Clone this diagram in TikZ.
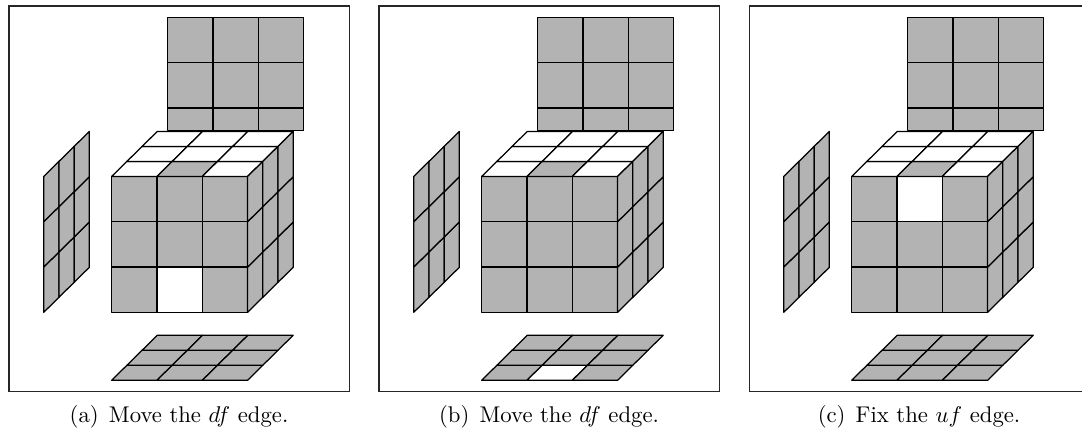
\documentclass[tikz,border=0pt]{standalone}
\definecolor{facegray}{RGB}{179,179,179}
\tikzset{
  cell/.style={draw=black, line width=0.55pt, fill=facegray, line join=round},
  panelframe/.style={draw=black!85, line width=0.45pt},
  capstyle/.style={anchor=base, inner sep=0pt, font=\normalsize},
}
\begin{document}
\begin{tikzpicture}[x=0.44pt,y=-0.44pt]
\useasboundingbox (0,0) rectangle (1082,435);
\clip (0,0) rectangle (1082,435);
\foreach \ox/\fw/\bw/\lab/\txt in {0/10/99/a/{Move the $df$ edge.},370/99/10/b/{Move the $df$ edge.},740/12/99/c/{Fix the $uf$ edge.}}{
  % frame
  \draw[panelframe] (\ox+9,6) rectangle (\ox+349.3,391.7);
  % upper square (clipped by the cube top)
  \foreach \c in {0,1,2}{
    \foreach \ya/\yb in {17.3/62.6,62.6/107.9,107.9/130.7}{
      \path[cell] (\ox+167.7+45.3*\c,\ya) rectangle (\ox+213.0+45.3*\c,\yb);
    }
  }
  \begin{scope}[shift={(\ox+111.7,312.3)}]
  \begin{scope}[x={(19.932pt,0pt)},y={(0pt,19.932pt)},z={(6.688pt,6.6pt)}]
    % left panel
    \foreach \j in {0,1,2}{\foreach \k in {0,1,2}{
      \path[cell] (-1.5,\j,\k) -- (-1.5,\j+1,\k) -- (-1.5,\j+1,\k+1) -- (-1.5,\j,\k+1) -- cycle;
    }}
    % bottom panel
    \foreach \i in {0,1,2}{\foreach \k in {0,1,2}{
      \ifnum\numexpr10*\i+\k\relax=\bw\relax\def\cf{white}\else\def\cf{facegray}\fi
      \path[cell,fill=\cf] (\i,-1.5,\k) -- (\i+1,-1.5,\k) -- (\i+1,-1.5,\k+1) -- (\i,-1.5,\k+1) -- cycle;
    }}
    % front face
    \foreach \i in {0,1,2}{\foreach \j in {0,1,2}{
      \ifnum\numexpr10*\i+\j\relax=\fw\relax\def\cf{white}\else\def\cf{facegray}\fi
      \path[cell,fill=\cf] (\i,\j,0) -- (\i+1,\j,0) -- (\i+1,\j+1,0) -- (\i,\j+1,0) -- cycle;
    }}
    % top face
    \foreach \i in {0,1,2}{\foreach \k in {0,1,2}{
      \ifnum\numexpr10*\i+\k\relax=10\relax\def\cf{facegray}\else\def\cf{white}\fi
      \path[cell,fill=\cf] (\i,3,\k) -- (\i+1,3,\k) -- (\i+1,3,\k+1) -- (\i,3,\k+1) -- cycle;
    }}
    % right face
    \foreach \j in {0,1,2}{\foreach \k in {0,1,2}{
      \path[cell] (3,\j,\k) -- (3,\j+1,\k) -- (3,\j+1,\k+1) -- (3,\j,\k+1) -- cycle;
    }}
  \end{scope}
  \end{scope}
  \node[capstyle] (cap\lab) at (\ox+179,422) {(\lab)\hskip0.45em\txt};
}
\end{tikzpicture}
\end{document}
